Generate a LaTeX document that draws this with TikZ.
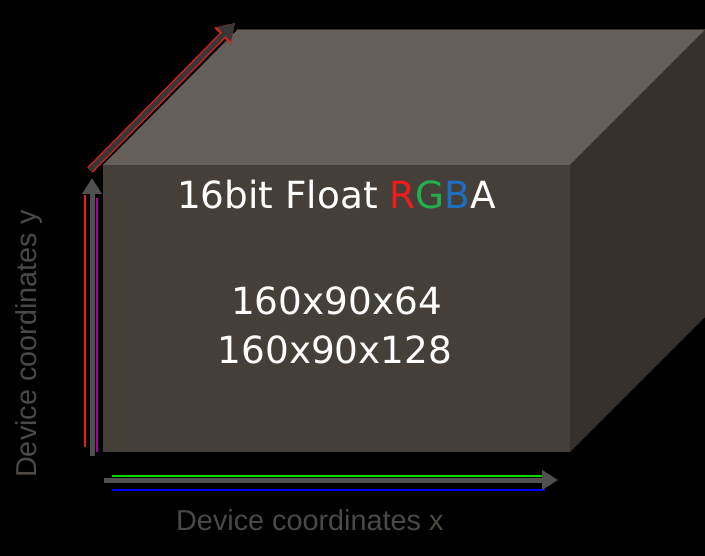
\documentclass[tikz,border=0pt]{standalone}
\usepackage{fontspec}
\setmainfont{DejaVu Sans}
\newfontfamily\labfont{Liberation Sans}
\usetikzlibrary{arrows.meta}
\definecolor{frontc}{HTML}{453F39}
\definecolor{topc}{HTML}{645F59}
\definecolor{sidec}{HTML}{35302B}
\definecolor{labc}{HTML}{4D4843}
\definecolor{shaftc}{HTML}{505050}
\definecolor{rc}{HTML}{EE1C1C}
\definecolor{gc}{HTML}{22B04C}
\definecolor{bc}{HTML}{1E6FC4}
\tikzset{
  bigtext/.style={text=white, inner sep=0pt, anchor=base, font=\fontsize{37.4}{44}\selectfont},
  axislabel/.style={text=labc, inner sep=0pt, anchor=base west, font=\labfont\fontsize{28.8}{34}\selectfont},
  axisarrow/.style={draw=shaftc, line width=5pt, -{Triangle[length=16pt,width=19pt]}},
}
\begin{document}
\begin{tikzpicture}[x=1pt,y=-1pt]
\useasboundingbox[fill=black] (0,0) rectangle (705,556);
% box corners
\coordinate (ftl) at (103,165);
\coordinate (ftr) at (570,165);
\coordinate (fbr) at (570,452);
\coordinate (fbl) at (103,452);
\coordinate (btl) at (237,30);
\coordinate (btr) at (705,30);
\coordinate (bbr) at (705,317);
% faces
\fill[topc] (ftl) -- (btl) -- (btr) -- (ftr) -- cycle;
\fill[sidec] (ftr) -- (btr) -- (bbr) -- (fbr) -- cycle;
\fill[frontc] (ftl) rectangle (fbr);
\draw[draw=frontc!80!black, line width=1pt] (btl) -- (btr);
% texts
\node[bigtext] (title) at (336.5,209) {16bit Float \textcolor{rc}{R}\textcolor{gc}{G}\textcolor{bc}{B}A};
\node[bigtext] (dimA) at (336.5,315) {160x90x64};
\node[bigtext] (dimB) at (335,363) {160x90x128};
% vertical axis arrow
\coordinate (vs) at (92,456);
\coordinate (ve) at (92,178);
\draw[rc, line width=1.6pt] (85,447) -- (85,195);
\draw[violet!70!magenta, line width=1.6pt] (97,452) -- (97,198);
\draw[axisarrow] (vs) -- (ve);
% horizontal axis arrow
\coordinate (hs) at (104,480);
\coordinate (he) at (558,480);
\draw[green!85!black, line width=1.2pt] (112,476) -- (545,476);
\draw[blue, line width=1.2pt] (112,490) -- (545,490);
\draw[axisarrow] (hs) -- (he);
% diagonal arrow
\coordinate (ds) at (90,170);
\coordinate (de) at (235,23);
\draw[rc, line width=7.5pt, -{Triangle[length=18pt,width=22pt]}] (ds) -- (de);
\draw[draw=black!78, line width=5pt, -{Triangle[length=16pt,width=19pt]}] (ds) -- (de);
% labels
\node[axislabel] (xlab) at (176,530) {Device coordinates x};
\node[axislabel, rotate=90] (ylab) at (36,478) {Device coordinates y};
\end{tikzpicture}
\end{document}
